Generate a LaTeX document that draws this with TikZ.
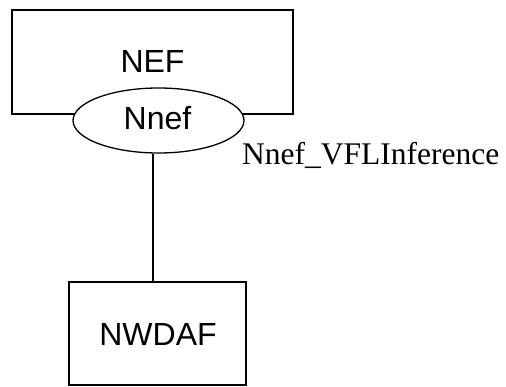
\documentclass[tikz,border=0pt]{standalone}
\usepackage{fontspec}
\setmainfont{Liberation Serif}
\newfontfamily\arialfont{Liberation Sans}
\usetikzlibrary{shapes.geometric}
\begin{document}
\begin{tikzpicture}[x=1pt,y=-1pt,
  box/.style={draw=black,line width=1.3pt,inner sep=0pt},
  lbl/.style={font=\arialfont\fontsize{32}{32}\selectfont,inner sep=0pt,anchor=base},
  conn/.style={draw=black,line width=1.3pt}]
\useasboundingbox (0,0) rectangle (506,387);
\node[box,minimum width=281pt,minimum height=104pt] (nefbox) at (152.5,62) {};
\node[lbl] (neflbl) at (152.5,73) {NEF};
\node[box,ellipse,fill=white,minimum width=171pt,minimum height=65pt] (nnef) at (158.5,120.5) {};
\node[lbl] (nneflbl) at (157.5,130) {Nnef};
\node[box,minimum width=177pt,minimum height=103pt] (nwdaf) at (157.5,333.5) {};
\node[lbl] (nwdaflbl) at (158,345) {NWDAF};
\node[font=\fontsize{31.5}{31.5}\selectfont,inner sep=0pt,anchor=base west] (iface) at (242,165) {Nnef\_VFLInference};
\draw[conn] ([xshift=-5.5pt]nnef.south) -- ([xshift=-4.5pt]nwdaf.north);
\end{tikzpicture}
\end{document}
